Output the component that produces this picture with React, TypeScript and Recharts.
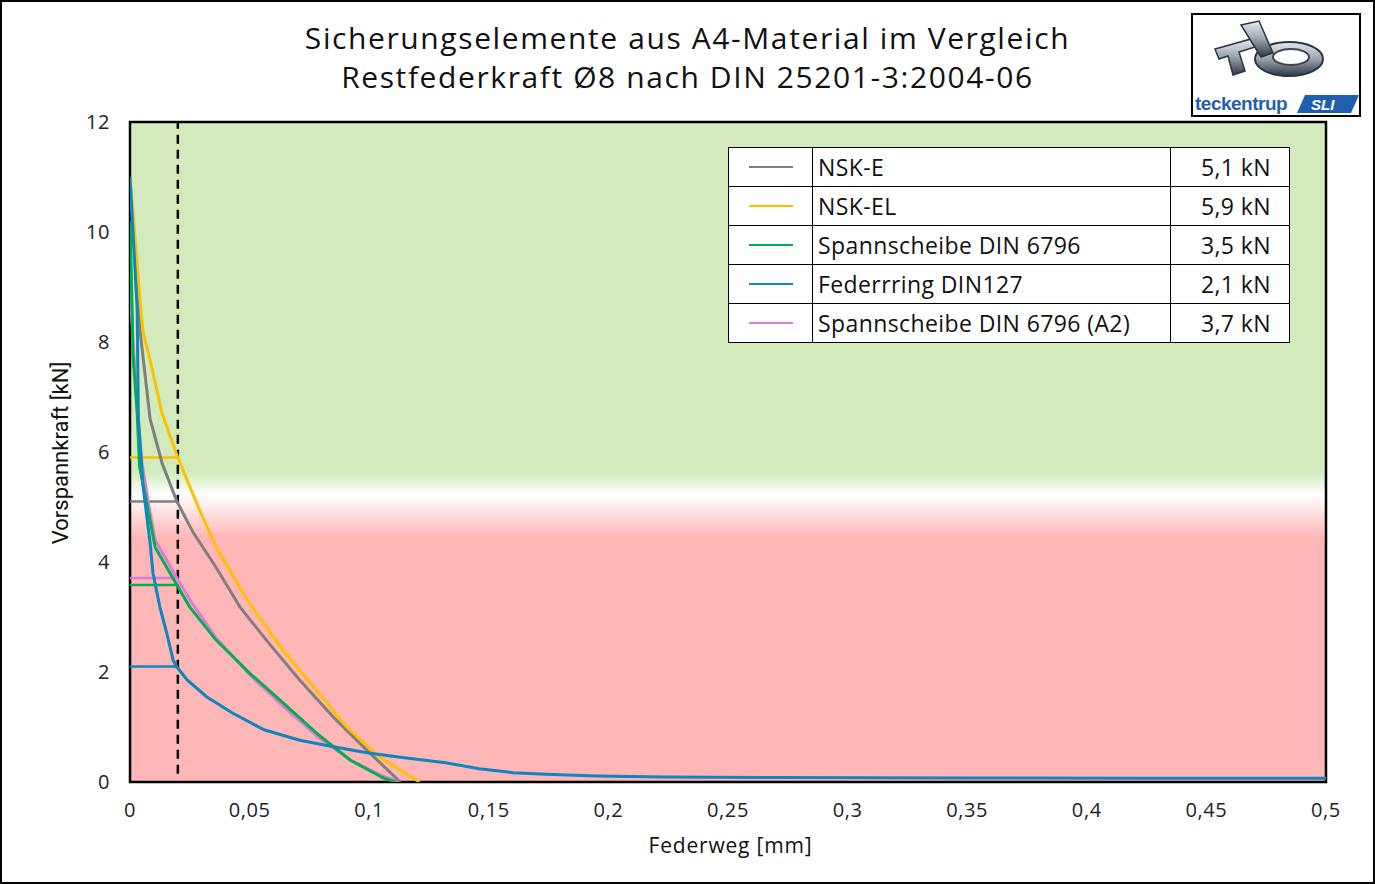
import React from "react"
import {
  ComposedChart,
  Line,
  XAxis,
  YAxis,
  ReferenceArea,
  ReferenceLine,
} from "recharts"

// Federweg [mm] / Vorspannkraft [kN]
const nskEX = [0, 0.001, 0.002, 0.0042, 0.0071, 0.0084, 0.0134, 0.0196, 0.0265, 0.036, 0.046, 0.057, 0.071, 0.085, 0.099, 0.113]
const nskEY = [10.8, 10.2, 9.7, 8.2, 7.1, 6.6, 5.8, 5.1, 4.53, 3.9, 3.18, 2.58, 1.85, 1.18, 0.58, 0]

const nskElX = [0, 0.0012, 0.0042, 0.0054, 0.0084, 0.0134, 0.02, 0.029, 0.036, 0.049, 0.063, 0.0767, 0.0906, 0.1045, 0.121]
const nskElY = [11.0, 10.4, 8.76, 8.2, 7.67, 6.7, 5.9, 4.95, 4.27, 3.31, 2.45, 1.73, 1.0, 0.45, 0]

const spannX = [0, 0.001, 0.0012, 0.003, 0.004, 0.007, 0.0105, 0.0196, 0.025, 0.036, 0.05, 0.064, 0.078, 0.092, 0.106, 0.111]
const spannY = [10.2, 8.4, 7.8, 6.7, 5.73, 5.07, 4.27, 3.58, 3.18, 2.58, 1.98, 1.44, 0.89, 0.4, 0.07, 0]

const federX = [0, 0.001, 0.003, 0.0035, 0.0055, 0.0084, 0.0096, 0.0125, 0.0154, 0.018, 0.0196, 0.024, 0.032, 0.043, 0.056, 0.071, 0.085, 0.099, 0.113, 0.132, 0.146, 0.16, 0.174, 0.195, 0.223, 0.272, 0.35, 0.42, 0.5]
const federY = [11.0, 10.2, 8.6, 6.6, 5.36, 4.35, 3.8, 3.18, 2.7, 2.22, 2.09, 1.85, 1.55, 1.25, 0.95, 0.76, 0.64, 0.53, 0.45, 0.35, 0.24, 0.17, 0.14, 0.11, 0.09, 0.08, 0.075, 0.07, 0.07]

const spannA2X = [0, 0.001, 0.003, 0.005, 0.008, 0.0105, 0.0196, 0.026, 0.036, 0.05, 0.064, 0.078, 0.092, 0.106, 0.113]
const spannA2Y = [9.0, 8.2, 6.8, 5.8, 5.0, 4.4, 3.71, 3.25, 2.62, 1.95, 1.38, 0.84, 0.4, 0.1, 0]

const seriesNames = ["NSK-E", "NSK-EL", "Spannscheibe DIN 6796", "Federrring DIN127", "Spannscheibe DIN 6796 (A2)"]
const legendValues = ["5,1 kN", "5,9 kN", "3,5 kN", "2,1 kN", "3,7 kN"]
const levelsAt002 = [5.1, 5.9, 3.58, 2.1, 3.71]
const colors = ["#7f7f7f", "#ffc000", "#00b050", "#0e86c0", "#e07ad8"]

const xTicks = [0, 0.05, 0.1, 0.15, 0.2, 0.25, 0.3, 0.35, 0.4, 0.45, 0.5]
const yTicks = [0, 2, 4, 6, 8, 10, 12]

const toPoints = (xs: number[], ys: number[]) => xs.map((x, i) => ({ x, y: ys[i] }))

const series = [
  toPoints(nskEX, nskEY),
  toPoints(nskElX, nskElY),
  toPoints(spannX, spannY),
  toPoints(federX, federY),
  toPoints(spannA2X, spannA2Y),
]
// pink first so the green curve sits on it, blue last
const drawOrder = [4, 0, 1, 2, 3]

const FONT = "'Open Sans', 'Noto Sans', sans-serif"

function Logo() {
  return (
    <div style={{ position: "absolute", left: 1189, top: 11, width: 170, height: 104, border: "2px solid #000", boxSizing: "border-box", background: "#fff" }}>
      <svg width={166} height={100}>
        <defs>
          <linearGradient id="metal" x1="0" y1="0" x2="0" y2="1">
            <stop offset="0" stopColor="#e8ecf2" />
            <stop offset="0.5" stopColor="#9aa3ad" />
            <stop offset="1" stopColor="#2f3843" />
          </linearGradient>
        </defs>
        <ellipse cx={96} cy={44} rx={34} ry={17} fill="url(#metal)" stroke="#2c3540" strokeWidth={2} />
        <ellipse cx={98} cy={42} rx={18} ry={8} fill="#fff" stroke="#3b4550" strokeWidth={2} />
        <path d="M22 34 L58 24 L62 32 L46 37 L52 56 L40 60 L35 41 L26 44 Z" fill="url(#metal)" stroke="#2c3540" strokeWidth={1.5} />
        <path d="M48 10 L66 6 L80 38 L68 42 Z" fill="url(#metal)" stroke="#2c3540" strokeWidth={1.5} />
        <text x={2} y={95} fontFamily="'Liberation Sans', Arial, sans-serif" fontWeight="bold" fontSize={19} fill="#1f5fae" letterSpacing={-0.5}>teckentrup</text>
        <path d="M112 80 L166 80 L158 98 L104 98 Z" fill="#1f5fae" />
        <text x={118} y={95} fontFamily="'Liberation Sans', Arial, sans-serif" fontWeight="bold" fontStyle="italic" fontSize={15} fill="#fff">SLI</text>
      </svg>
    </div>
  )
}

function LegendTable() {
  const cell: React.CSSProperties = { border: "1.5px solid #000", height: 38, padding: 0, fontFamily: FONT, fontSize: 23, letterSpacing: 0.4, color: "#111" }
  return (
    <table style={{ position: "absolute", left: 726, top: 145, borderCollapse: "collapse", background: "#fff" }}>
      <tbody>
        {seriesNames.map((name, i) => (
          <tr key={name}>
            <td style={{ ...cell, width: 83, textAlign: "center" }}>
              <div style={{ width: 44, height: 2, background: colors[i], margin: "0 auto" }} />
            </td>
            <td style={{ ...cell, width: 352, paddingLeft: 5, whiteSpace: "nowrap" }}>{name}</td>
            <td style={{ ...cell, width: 100, paddingRight: 18, textAlign: "right" }}>{legendValues[i]}</td>
          </tr>
        ))}
      </tbody>
    </table>
  )
}

export default function App() {
  return (
    <div style={{ position: "fixed", left: 0, top: 0, width: 1375, height: 884, background: "#fff", border: "2px solid #000", boxSizing: "border-box", overflow: "hidden" }}>
      <div style={{ position: "absolute", left: -2, top: -2, width: 1375 }}>
        <ComposedChart width={1375} height={884} margin={{ top: 122, right: 49, bottom: 62, left: 70 }}>
          <defs>
            <linearGradient id="bgGrad" x1="0" y1="0" x2="0" y2="1">
              <stop offset="0" stopColor="#d3ebbc" />
              <stop offset="0.53" stopColor="#d3ebbc" />
              <stop offset="0.565" stopColor="#ffffff" />
              <stop offset="0.63" stopColor="#ffb6b6" />
              <stop offset="1" stopColor="#ffb6b6" />
            </linearGradient>
          </defs>
          <XAxis
            type="number"
            dataKey="x"
            domain={[0, 0.5]}
            ticks={xTicks}
            allowDataOverflow
            height={40}
            tickLine={false}
            axisLine={false}
            tickMargin={15}
            tick={{ fontFamily: FONT, fontSize: 20, letterSpacing: 0.6, fill: "#222" }}
            tickFormatter={(v: number) => String(v).replace(".", ",")}
          />
          <YAxis
            type="number"
            dataKey="y"
            domain={[0, 12]}
            ticks={yTicks}
            allowDataOverflow
            width={60}
            tickLine={false}
            axisLine={false}
            tickMargin={14}
            tick={{ fontFamily: FONT, fontSize: 20, letterSpacing: 0.6, fill: "#222" }}
          />
          <ReferenceArea x1={0} x2={0.5} y1={0} y2={12} fill="url(#bgGrad)" fillOpacity={1} stroke="#000" strokeWidth={2.5} />
          <ReferenceLine
            segment={[{ x: 0.02, y: 0.15 }, { x: 0.02, y: 12 }]}
            stroke="#000"
            strokeWidth={2.5}
            strokeDasharray="9 6"
          />
          {levelsAt002.map((lv, i) => (
            <ReferenceLine
              key={`lv-${i}`}
              segment={[{ x: 0, y: lv }, { x: 0.02, y: lv }]}
              stroke={colors[i]}
              strokeWidth={2.5}
            />
          ))}
          {drawOrder.map((i) => (
            <Line
              key={seriesNames[i]}
              data={series[i]}
              dataKey="y"
              name={seriesNames[i]}
              type="linear"
              stroke={colors[i]}
              strokeWidth={3}
              dot={false}
              activeDot={false}
              isAnimationActive={false}
            />
          ))}
        </ComposedChart>
      </div>

      <div style={{ position: "absolute", left: 0, top: 16, width: 1371, textAlign: "center", fontFamily: FONT, fontSize: 30, letterSpacing: 1.6, lineHeight: "39px", color: "#111" }}>
        <div>Sicherungselemente aus A4-Material im Vergleich</div>
        <div>Restfederkraft Ø8 nach DIN 25201-3:2004-06</div>
      </div>

      <div style={{ position: "absolute", left: 0, top: 829, width: 1375, paddingLeft: 82, boxSizing: "border-box", textAlign: "center", fontFamily: FONT, fontSize: 21, letterSpacing: 0.8, color: "#111" }}>
        Federweg [mm]
      </div>
      <div style={{ position: "absolute", left: 58, top: 451, transform: "translate(-50%, -50%) rotate(-90deg)", whiteSpace: "nowrap", fontFamily: "'Liberation Sans Narrow', 'Roboto', sans-serif", fontSize: 22, color: "#111" }}>
        Vorspannkraft [kN]
      </div>

      <LegendTable />
      <Logo />
    </div>
  )
}
